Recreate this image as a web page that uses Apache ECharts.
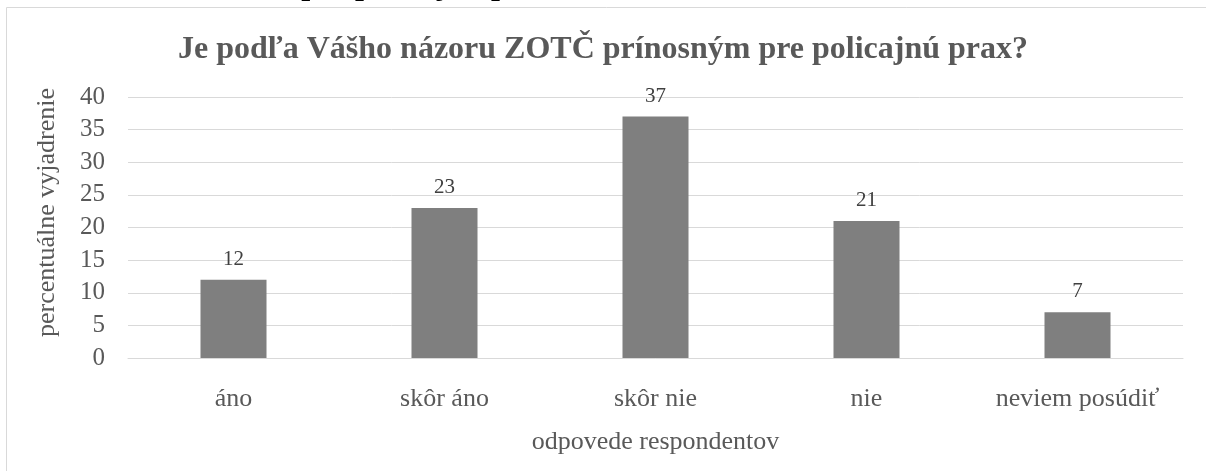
<!DOCTYPE html>
<html>
<head>
<meta charset="utf-8">
<script src="https://cdn.jsdelivr.net/npm/echarts@6/dist/echarts.min.js"></script>
<style>
    html, body { margin: 0; padding: 0; background: #fff; }
    #chart { width: 1206px; height: 471px; }
</style>
</head>
<body>
<div id="chart"></div>
<script>
// data
var categories = ["áno", "skôr áno", "skôr nie", "nie", "neviem posúdiť"];
var values = [12, 23, 37, 21, 7];
var yTicks = { min: 0, max: 40, interval: 5 };

var font = "Liberation Serif";
var chart = echarts.init(document.getElementById("chart"));

chart.setOption({
    animation: false,
    title: {
        text: "Je podľa Vášho názoru ZOTČ prínosným pre policajnú prax?",
        left: "center",
        top: 29,
        textStyle: {
            fontFamily: font,
            fontSize: 32,
            fontWeight: "bold",
            color: "#595959",
        },
    },
    graphic: [
        {
            // chart frame, only top and left edges are in view
            type: "rect",
            shape: { x: 6.5, y: 7.5, width: 1400, height: 800 },
            style: { fill: "none", stroke: "#d9d9d9", lineWidth: 1 },
            silent: true,
        },
        {
            // caption above the chart, cut off by the page edge
            type: "text",
            left: 8,
            top: -30,
            style: {
                text: "Graf 8 Prínos ZOTČ pre policajnú prax",
                font: "bold 32px " + font,
                fill: "#000",
            },
        },
    ],
    grid: {
        left: 128,
        right: 23,
        top: 97,
        bottom: 113,
    },
    xAxis: {
        type: "category",
        data: categories,
        name: "odpovede respondentov",
        nameLocation: "middle",
        nameGap: 71,
        nameTextStyle: { fontFamily: font, fontSize: 26, color: "#595959" },
        axisLine: { lineStyle: { color: "#d9d9d9", width: 1 } },
        axisTick: { show: false },
        axisLabel: {
            interval: 0,
            margin: 28,
            fontFamily: font,
            fontSize: 26,
            color: "#595959",
        },
    },
    yAxis: {
        type: "value",
        min: yTicks.min,
        max: yTicks.max,
        interval: yTicks.interval,
        name: "percentuálne vyjadrenie",
        nameLocation: "middle",
        nameGap: 68,
        nameTextStyle: {
            fontFamily: font,
            fontSize: 26,
            color: "#595959",
            padding: [0, 0, 0, 30],
        },
        axisLine: { show: false },
        axisTick: { show: false },
        splitLine: { lineStyle: { color: "#d9d9d9", width: 1 } },
        axisLabel: {
            margin: 23,
            fontFamily: font,
            fontSize: 25,
            color: "#595959",
        },
    },
    series: [
        {
            type: "bar",
            data: values,
            barWidth: 66,
            itemStyle: { color: "#7f7f7f" },
            label: {
                show: true,
                position: "top",
                distance: 10,
                fontFamily: font,
                fontSize: 21,
                color: "#404040",
            },
        },
    ],
});
</script>
</body>
</html>
